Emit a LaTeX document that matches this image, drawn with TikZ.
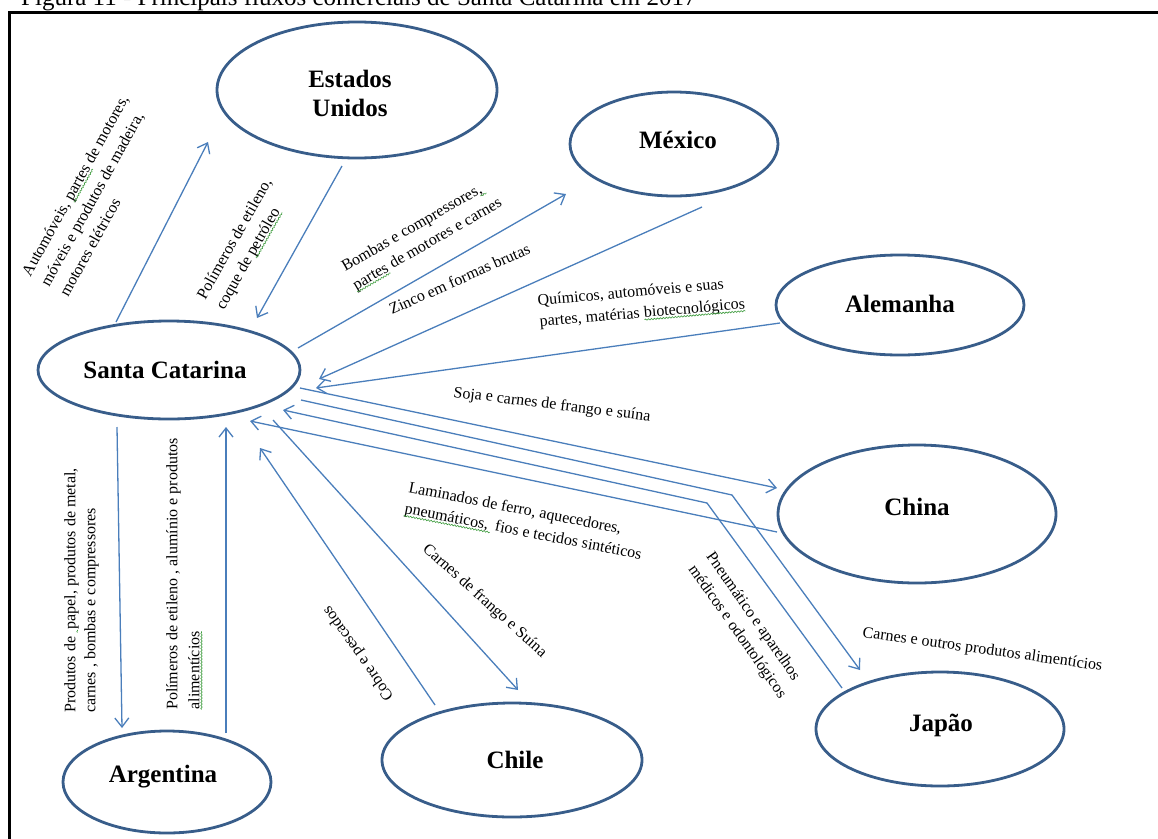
\documentclass[tikz,border=0pt]{standalone}
\usepackage{fontspec}
\setmainfont{Liberation Serif}
\usetikzlibrary{shapes.geometric, arrows.meta, decorations.pathmorphing}
\definecolor{ovalline}{HTML}{385D8A}
\definecolor{flowline}{HTML}{4A7EBB}
\definecolor{spellgreen}{HTML}{3A9A3A}

% wavy green underline under a word
\newcommand\squig[1]{\tikz[baseline=(sqw.base)]{%
  \node[inner sep=0pt, outer sep=0pt, anchor=base, rotate=0] (sqw) {#1};
  \draw[spellgreen, line width=0.6pt, decorate,
        decoration={snake, amplitude=0.7pt, segment length=3pt}]
    ([yshift=-2.2pt]sqw.base west) -- ([yshift=-2.2pt]sqw.base east);}}

\begin{document}
\begin{tikzpicture}[x=1pt, y=-1pt,
  country/.style={ellipse, draw=ovalline, line width=2.8pt, inner sep=0pt},
  cname/.style={font=\fontsize{25}{29}\selectfont\bfseries, align=center, inner sep=0pt},
  flow/.style={draw=flowline, line width=1.3pt, -{Straight Barb[length=9pt,width=14pt]}},
  goods/.style={font=\fontsize{16}{21.5}\selectfont, inner sep=0pt, align=left},
]
\useasboundingbox (0,0) rectangle (1158,838);

% caption and frame
\node[anchor=base west, inner sep=0pt, font=\fontsize{25}{30}\selectfont] (caption) at (21,5)
  {Figura 11 - Principais fluxos comerciais de Santa Catarina em 2017};
\draw[line width=3pt] (9,860) -- (9,12) -- (1180,12);

% countries
\node[country, minimum width=262pt, minimum height=98pt]  (sc) at (169,370) {};
\node[country, minimum width=280pt, minimum height=136pt] (us) at (357,90)  {};
\node[country, minimum width=208pt, minimum height=104pt] (mx) at (674,144) {};
\node[country, minimum width=248pt, minimum height=100pt] (al) at (900,305) {};
\node[country, minimum width=278pt, minimum height=138pt] (cn) at (917,514) {};
\node[country, minimum width=248pt, minimum height=114pt] (jp) at (940,729) {};
\node[country, minimum width=260pt, minimum height=114pt] (cl) at (512,760) {};
\node[country, minimum width=208pt, minimum height=102pt] (ar) at (167,782) {};

\node[cname] (sc-name) at (165,370) {Santa Catarina};
\node[cname] (us-name) at (350,93)  {Estados\\Unidos};
\node[cname] (mx-name) at (678,140) {México};
\node[cname] (al-name) at (900,304) {Alemanha};
\node[cname] (cn-name) at (917,507) {China};
\node[cname] (jp-name) at (941,725) {Japão};
\node[cname] (cl-name) at (515,760) {Chile};
\node[cname] (ar-name) at (163,777) {Argentina};

% flow end points
\coordinate (scUSa) at (116,322); \coordinate (scUSb) at (208,142);
\coordinate (usSCa) at (342,166); \coordinate (usSCb) at (257,318);
\coordinate (scMXa) at (298,348); \coordinate (scMXb) at (566,194);
\coordinate (mxSCa) at (702,207); \coordinate (mxSCb) at (319,379);
\coordinate (alSCa) at (780,323); \coordinate (alSCb) at (316,388);
\coordinate (scCNa) at (300,388); \coordinate (scCNb) at (777,488);
\coordinate (scJPa) at (301,400); \coordinate (scJPk) at (732,495); \coordinate (scJPb) at (860,670);
\coordinate (jpSCa) at (842,688); \coordinate (jpSCk) at (707,503); \coordinate (jpSCb) at (283,410);
\coordinate (cnSCa) at (777,532); \coordinate (cnSCb) at (250,421);
\coordinate (scCLa) at (273,420); \coordinate (scCLb) at (518,690);
\coordinate (clSCa) at (435,705); \coordinate (clSCb) at (260,448);
\coordinate (scARa) at (117,427); \coordinate (scARb) at (122,728);
\coordinate (arSCa) at (226,733); \coordinate (arSCb) at (226,427);

% flows
\draw[flow] (scUSa) -- (scUSb);
\draw[flow] (usSCa) -- (usSCb);
\draw[flow] (scMXa) -- (scMXb);
\draw[flow] (mxSCa) -- (mxSCb);
\draw[flow] (alSCa) -- (alSCb);
\draw[flow] (scCNa) -- (scCNb);
\draw[flow] (scJPa) -- (scJPk) -- (scJPb);
\draw[flow] (jpSCa) -- (jpSCk) -- (jpSCb);
\draw[flow] (cnSCa) -- (cnSCb);
\draw[flow] (scCLa) -- (scCLb);
\draw[flow] (clSCa) -- (clSCb);
\draw[flow] (scARa) -- (scARb);
\draw[flow] (arSCa) -- (arSCb);

% goods carried by each flow
\node[goods, rotate=61, anchor=north west] (t-scus) at (20.4,271.7)
  {Automóveis, \squig{partes} de motores,\\móveis e produtos de madeira,\\motores elétricos};
\node[goods, rotate=60.5, anchor=north west] (t-ussc) at (195.4,294.6)
  {Polímeros de etileno,\\coque de \squig{petróleo}};
\node[goods, rotate=30, anchor=north west] (t-scmx) at (339.5,262)
  {Bombas e compressores\squig{,\,}\\\squig{partes} de motores e carnes};
\node[goods, rotate=24, anchor=base west] (t-mxsc) at (392,315) {Zinco em formas brutas};
\node[goods, rotate=5, anchor=north west] (t-alsc) at (537,294)
  {Químicos, automóveis e suas\\partes, matérias \squig{biotecnológicos}};
\node[goods, rotate=-7, anchor=base west] (t-sccn) at (453,397) {Soja e carnes de frango e suína};
\node[goods, rotate=-11, anchor=north west] (t-cnsc) at (410,481)
  {Laminados de ferro, aquecedores,\\\squig{pneumáticos,\,} fios e tecidos sintéticos};
\node[goods, rotate=-42, anchor=base west] (t-sccl) at (422,550) {Carnes de frango e Suína};
\node[goods, rotate=125, anchor=base west] (t-clsc) at (394,697) {Cobre e pescados};
\node[goods, rotate=90, anchor=north west, font=\fontsize{16}{20}\selectfont] (t-scar) at (64,713)
  {Produtos de \squig{\,}papel, produtos de metal,\\carnes , bombas e compressores};
\node[goods, rotate=90, anchor=north west, font=\fontsize{16}{22}\selectfont] (t-arsc) at (166,710)
  {Polímeros de etileno , alumínio e produtos\\\squig{alimentícios}};
\node[goods, rotate=-55, anchor=north west] (t-jpsc) at (715,550)
  {Pneumático e aparelhos\\médicos e odontológicos};
\node[goods, rotate=-8, anchor=base west] (t-scjp) at (862,637) {Carnes e outros produtos alimentícios};

\end{tikzpicture}
\end{document}
